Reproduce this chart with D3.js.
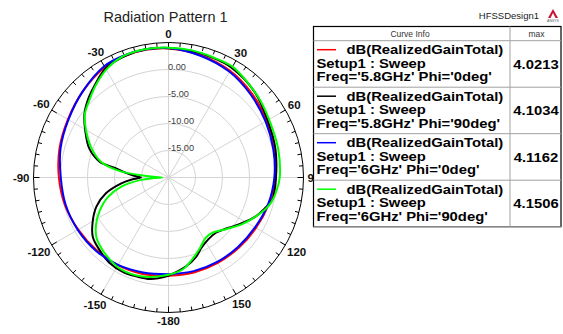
<!DOCTYPE html>
<html><head><meta charset="utf-8">
<script src="https://cdn.jsdelivr.net/npm/d3@7/dist/d3.min.js"></script>
<style>
html,body{margin:0;padding:0;background:#fff;}
svg{display:block;font-family:"Liberation Sans",Arial,sans-serif;}
</style></head>
<body><svg id="chart" width="563" height="334"></svg>
<script>
// ---------------- data ----------------
const chartTitle = "Radiation Pattern 1";
const designName = "HFSSDesign1";
const ringValues = [-15, -10, -5, 0];
const ringLabels = ["-15.00", "-10.00", "-5.00", "0.00"];
const angleTickValues = [0, 30, 60, 90, 120, 150, 180, -150, -120, -90, -60, -30];
const angleTickLabels = ["0", "30", "60", "90", "120", "150", "-180", "-150", "-120", "-90", "-60", "-30"];

// dB(RealizedGainTotal), Freq=5.8GHz Phi=0deg
const thetaRed = [-180,-165,-150,-135,-120,-105,-90,-75,-60,-45,-30,-20,-10,0,15,30,45,60,75,90,105,120,135,150,165,180];
const dbRed    = [-1.8,-1.5,-1.25,-1.05,-0.7,-0.15,0.3,0.9,1.5,2.5,3.6,3.95,4.0,3.9,3.4,2.8,1.9,1.0,0.2,-0.15,-0.8,-1.3,-1.6,-1.75,-1.8,-1.8];
// Freq=5.8GHz Phi=90deg
const thetaBlack = [-180,-170,-160,-155,-145,-136,-128,-120,-112,-104,-97,-93,-90,-87,-84,-80,-77,-70,-61,-53,-45,-38,-30,-20,-10,0,10,20,30,45,60,75,90,102,108,114,123,132,139,147,155,161,169,180];
const dbBlack    = [-1.8,-0.9,-0.7,-0.55,-0.8,-1.5,-2.2,-3.8,-5.6,-8.1,-11.2,-13.2,-14.9,-13.6,-12.2,-9.9,-6.9,-4.4,-2.4,-0.5,0.9,2.0,3.3,3.9,4.1,3.95,3.85,3.65,3.45,2.5,1.2,0.5,-0.1,-0.35,-1.3,-2.3,-4.2,-5.8,-6.5,-6.4,-5.6,-4.4,-3.2,-1.8];
// Freq=6GHz Phi=0deg
const thetaBlue = [-180,-165,-150,-135,-120,-105,-90,-75,-60,-45,-30,-20,-10,0,15,30,45,60,75,90,105,120,135,150,165,180];
const dbBlue    = [-2.1,-1.8,-1.3,-0.9,-0.6,-0.3,-0.05,0.7,1.4,2.5,3.8,4.05,4.1,4.0,3.3,2.6,1.6,0.75,0.1,-0.4,-0.9,-1.5,-1.8,-1.95,-2.05,-2.1];
// Freq=6GHz Phi=90deg
const thetaGreen = [-180,-170,-162,-151,-142,-136,-130,-123,-116,-108,-101,-95,-92.5,-90,-87.5,-85,-82,-77,-69,-61,-53,-45,-38,-29,-20,-11,0,10,20,30,41,50,60,75,90,97,103,108,114,122,132,141,148,157,164,171,180];
const dbGreen    = [-2.0,-1.3,-0.9,-0.9,-1.5,-2.0,-2.6,-4.0,-5.8,-8.2,-11.1,-14.9,-17.0,-18.8,-17.2,-14.3,-10.5,-7.2,-4.7,-2.6,-0.6,0.6,1.8,3.2,4.0,4.15,4.05,3.95,3.75,3.7,2.8,2.2,1.5,1.0,0.6,0.15,-0.35,-1.1,-2.3,-3.8,-5.7,-6.9,-6.9,-5.5,-4.2,-2.8,-2.0];

const seriesNames = ["dB(RealizedGainTotal)", "dB(RealizedGainTotal)", "dB(RealizedGainTotal)", "dB(RealizedGainTotal)"];
const seriesSetup = ["Setup1 : Sweep", "Setup1 : Sweep", "Setup1 : Sweep", "Setup1 : Sweep"];
const seriesFreq = ["Freq='5.8GHz' Phi='0deg'", "Freq='5.8GHz' Phi='90deg'", "Freq='6GHz' Phi='0deg'", "Freq='6GHz' Phi='90deg'"];
const seriesMax = ["4.0213", "4.1034", "4.1162", "4.1506"];
const seriesColors = ["#ff0000", "#000000", "#0000ff", "#00ff00"];

// ---------------- drawing ----------------
const svg = d3.select("#chart");
const cx = 168.5, cy = 177.5, R = 135;
const rScale = d3.scaleLinear().domain([-20, 5]).range([0, R]);
const rad = d => d * Math.PI / 180;
const lx0 = 313.5, lx1 = 561, ly0 = 26.5, hdr = 40.7, rowH = 46.5, colX = 510;

// clip so that plot labels stop at the legend's left edge
svg.append("defs").append("clipPath").attr("id", "plotClip")
  .append("rect").attr("x", 0).attr("y", 0).attr("width", lx0).attr("height", 334);

// title
svg.append("text").attr("x", 165.5).attr("y", 22).attr("text-anchor", "middle")
  .attr("font-size", 14.5).attr("fill", "#222").text(chartTitle);
svg.append("text").attr("x", 539).attr("y", 19).attr("text-anchor", "end")
  .attr("font-size", 9.5).attr("fill", "#222").text(designName);
// small logo
const logo = svg.append("g").attr("transform", "translate(553,15)");
logo.append("path").attr("d", "M0,-6 L5,3 L-5,3 Z").attr("fill", "#c8102e");
logo.append("path").attr("d", "M0,-2 L2.5,3 L-2.5,3 Z").attr("fill", "#fff");
logo.append("text").attr("y", 7).attr("text-anchor", "middle").attr("font-size", 3.5).attr("fill", "#555").text("ANSYS");

const outer = svg.append("g").attr("clip-path", "url(#plotClip)");
const g = outer.append("g").attr("transform", `translate(${cx},${cy})`);

// rings
g.selectAll("circle.ring").data(ringValues).enter().append("circle")
  .attr("r", d => rScale(d)).attr("fill", "none").attr("stroke", "#d4d4d4").attr("stroke-width", 1);
// spokes
const spokeAngles = d3.range(0, 360, 30);
g.selectAll("line.spoke").data(spokeAngles).enter().append("line")
  .attr("x1", 0).attr("y1", 0)
  .attr("x2", d => R * Math.sin(rad(d))).attr("y2", d => -R * Math.cos(rad(d)))
  .attr("stroke", "#d4d4d4").attr("stroke-width", 1);

// outer circle & ticks
g.append("circle").attr("r", R).attr("fill", "none").attr("stroke", "#000").attr("stroke-width", 1);
const tickAngles = d3.range(0, 360, 5);
g.selectAll("line.tick").data(tickAngles).enter().append("line")
  .attr("x1", d => R * Math.sin(rad(d))).attr("y1", d => -R * Math.cos(rad(d)))
  .attr("x2", d => (R - (d % 30 === 0 ? 6 : 4)) * Math.sin(rad(d)))
  .attr("y2", d => -(R - (d % 30 === 0 ? 6 : 4)) * Math.cos(rad(d)))
  .attr("stroke", "#000").attr("stroke-width", 1);

// ring labels
g.selectAll("text.rl").data(ringValues).enter().append("text")
  .attr("x", -0.5).attr("y", d => -rScale(d) - 2.5).attr("dy", "0.36em")
  .attr("font-size", 9.2).attr("fill", "#404040").text((d, i) => ringLabels[i]);

// curves
const lineGen = d3.lineRadial()
  .angle(d => rad(d[0])).radius(d => rScale(d[1]))
  .curve(d3.curveCatmullRom.alpha(0.5));
const series = [
  d3.zip(thetaRed, dbRed),
  d3.zip(thetaBlack, dbBlack),
  d3.zip(thetaBlue, dbBlue),
  d3.zip(thetaGreen, dbGreen)
];
g.selectAll("path.curve").data(series).enter().append("path")
  .attr("d", d => lineGen(d)).attr("fill", "none")
  .attr("stroke", (d, i) => seriesColors[i]).attr("stroke-width", 2)
  .attr("stroke-linejoin", "round");

// angle labels
angleTickValues.forEach((a, i) => {
  const t = g.append("text").attr("text-anchor", "middle").attr("font-size", 11.5)
    .attr("font-weight", "bold").attr("fill", "#111").text(angleTickLabels[i]);
  const w = t.node().getComputedTextLength();
  const rl = 143.5 + Math.abs(Math.sin(rad(a))) * (w / 2 - 4.5);
  t.attr("x", rl * Math.sin(rad(a))).attr("y", -rl * Math.cos(rad(a))).attr("dy", "0.36em");
});

// legend
const leg = svg.append("g");
leg.append("rect").attr("x", lx0).attr("y", ly0).attr("width", lx1 - lx0).attr("height", hdr - ly0 + rowH * 4)
  .attr("fill", "#fff").attr("stroke", "#000").attr("stroke-width", 1.2);
leg.append("line").attr("x1", colX).attr("x2", colX).attr("y1", ly0).attr("y2", hdr + rowH * 4)
  .attr("stroke", "#a0a0a0");
d3.range(5).forEach(k => {
  leg.append("line").attr("x1", lx0).attr("x2", lx1).attr("y1", hdr + rowH * k).attr("y2", hdr + rowH * k)
    .attr("stroke", "#a0a0a0");
});
leg.append("text").attr("x", 410).attr("y", 36.5).attr("text-anchor", "middle").attr("font-size", 8.5)
  .attr("fill", "#333").text("Curve Info");
leg.append("text").attr("x", 536.5).attr("y", 36.5).attr("text-anchor", "middle").attr("font-size", 8.5)
  .attr("fill", "#333").text("max");
const sx = 1.14;
seriesColors.forEach((c, i) => {
  const top = hdr + rowH * i;
  leg.append("line").attr("x1", 317).attr("x2", 336).attr("y1", top + 9).attr("y2", top + 9)
    .attr("stroke", c).attr("stroke-width", 1.5);
  const lines = [[346.5, top + 13.6, seriesNames[i]], [316.5, top + 27, seriesSetup[i]], [316.5, top + 40.4, seriesFreq[i]]];
  lines.forEach(([x, y, s]) => {
    leg.append("text").attr("transform", `translate(${x},${y}) scale(${sx},1)`)
      .attr("font-size", 13).attr("font-weight", "bold").attr("fill", "#000").text(s);
  });
  leg.append("text").attr("transform", `translate(536,${top + 28}) scale(${sx},1)`)
    .attr("text-anchor", "middle").attr("font-size", 13).attr("font-weight", "bold").attr("fill", "#000")
    .text(seriesMax[i]);
});
</script>
</body></html>
